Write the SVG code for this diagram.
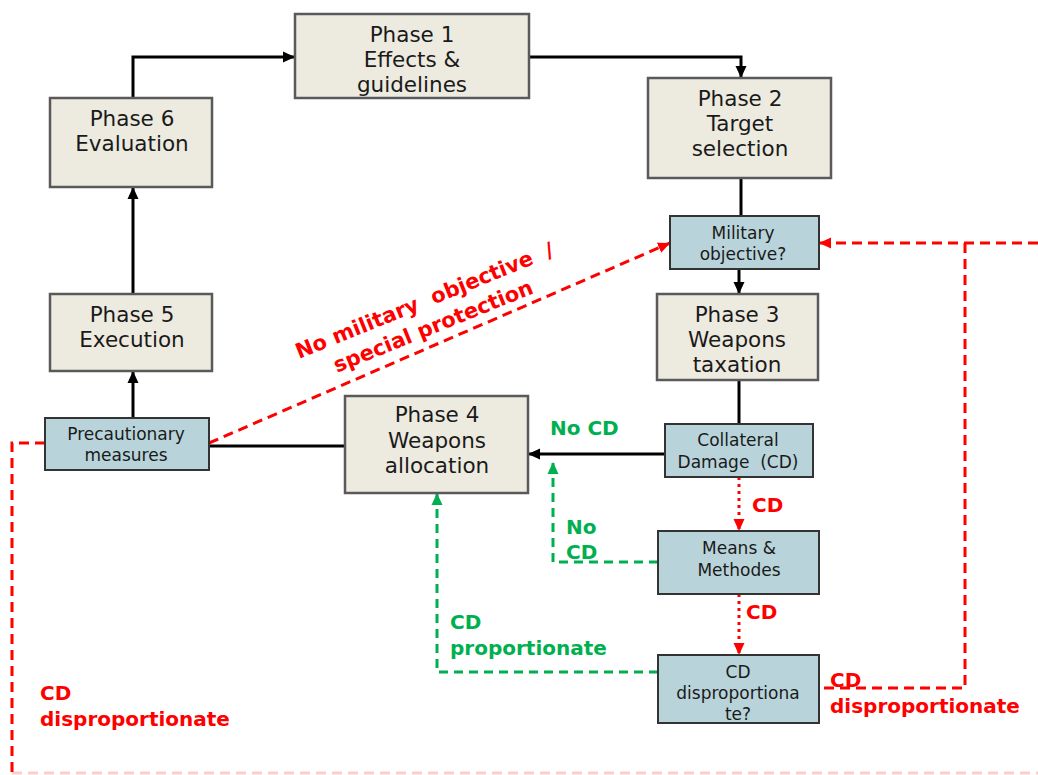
<svg xmlns="http://www.w3.org/2000/svg" width="1038" height="775" viewBox="0 0 1038 775">
<style>
.ph{fill:#EDEAE0;stroke:#5A5A5A;stroke-width:2.5}
.bl{fill:#B8D4DA;stroke:#333;stroke-width:2}
.t{font-family:"DejaVu Sans",Verdana,sans-serif;fill:#1a1a1a;text-anchor:middle}
.big{font-size:21.5px}
.sm{font-size:17px}
.lab{font-family:"DejaVu Sans",Verdana,sans-serif;font-weight:bold;font-size:20px;white-space:pre}
.red{fill:#FF0000}
.grn{fill:#00B050}
.k{fill:none;stroke:#000;stroke-width:3}
.rd{fill:none;stroke:#FF0000;stroke-width:3;stroke-dasharray:10 6}
.rdot{fill:none;stroke:#FF0000;stroke-width:3;stroke-dasharray:3 4}
.gd{fill:none;stroke:#00B050;stroke-width:3;stroke-dasharray:9 6}
</style>
<defs>
<marker id="ak" markerUnits="userSpaceOnUse" markerWidth="14" markerHeight="14" refX="12" refY="7" orient="auto"><path d="M0,1.5 L12,7 L0,12.5 z" fill="#000"/></marker>
<marker id="ar" markerUnits="userSpaceOnUse" markerWidth="14" markerHeight="14" refX="12" refY="7" orient="auto"><path d="M0,1.5 L12,7 L0,12.5 z" fill="#FF0000"/></marker>
<marker id="ag" markerUnits="userSpaceOnUse" markerWidth="14" markerHeight="14" refX="12" refY="7" orient="auto"><path d="M0,1.5 L12,7 L0,12.5 z" fill="#00B050"/></marker>
</defs>
<g id="connectors">
<path class="k" d="M133,98 V57 H295" marker-end="url(#ak)"/>
<path class="k" d="M529,57 H741 V78" marker-end="url(#ak)"/>
<path class="k" d="M741,178 V216"/>
<path class="k" d="M739,269 V294" marker-end="url(#ak)"/>
<path class="k" d="M739,380 V424"/>
<path class="k" d="M665,454 H528" marker-end="url(#ak)"/>
<path class="k" d="M345,446 H209"/>
<path class="k" d="M133,418 V371" marker-end="url(#ak)"/>
<path class="k" d="M133,294 V187" marker-end="url(#ak)"/>
<path class="rd" d="M209,443 L670,243" marker-end="url(#ar)"/>
<path class="rd" d="M1038,243 H819" marker-end="url(#ar)"/>
<path class="rd" d="M965,243 V688 H805"/>
<path class="rd" d="M45,443 H12 V773"/>
<path d="M12,773 H1038" fill="none" stroke="#FF0000" stroke-opacity="0.2" stroke-width="3" stroke-dasharray="10 6"/>
<path class="rdot" d="M739,477 V531" marker-end="url(#ar)"/>
<path class="rdot" d="M739,594 V655" marker-end="url(#ar)"/>
<path class="gd" d="M658,562 H553 V462" marker-end="url(#ag)"/>
<path class="gd" d="M658,672 H437 V493" marker-end="url(#ag)"/>
</g>
<g id="phase1"><rect class="ph" x="295" y="14" width="234" height="84"/><text class="t big"><tspan x="412" y="42">Phase 1</tspan><tspan x="412" y="67">Effects &amp;</tspan><tspan x="412" y="92">guidelines</tspan></text></g>
<g id="phase6"><rect class="ph" x="50" y="98" width="162" height="89"/><text class="t big"><tspan x="132" y="126">Phase 6</tspan><tspan x="132" y="151">Evaluation</tspan></text></g>
<g id="phase2"><rect class="ph" x="648" y="78" width="183" height="100"/><text class="t big"><tspan x="740" y="106">Phase 2</tspan><tspan x="740" y="131">Target</tspan><tspan x="740" y="156">selection</tspan></text></g>
<g id="military"><rect class="bl" x="670" y="216" width="149" height="53"/><text class="t sm"><tspan x="743" y="239">Military</tspan><tspan x="743" y="260">objective?</tspan></text></g>
<g id="phase3"><rect class="ph" x="657" y="294" width="161" height="86"/><text class="t big"><tspan x="737" y="322">Phase 3</tspan><tspan x="737" y="347">Weapons</tspan><tspan x="737" y="372">taxation</tspan></text></g>
<g id="phase5"><rect class="ph" x="50" y="294" width="162" height="77"/><text class="t big"><tspan x="132" y="322">Phase 5</tspan><tspan x="132" y="347">Execution</tspan></text></g>
<g id="precaution"><rect class="bl" x="45" y="418" width="164" height="52"/><text class="t sm"><tspan x="126" y="440">Precautionary</tspan><tspan x="126" y="461">measures</tspan></text></g>
<g id="phase4"><rect class="ph" x="345" y="396" width="183" height="97"/><text class="t big"><tspan x="437" y="422">Phase 4</tspan><tspan x="437" y="448">Weapons</tspan><tspan x="437" y="473">allocation</tspan></text></g>
<g id="collateral"><rect class="bl" x="665" y="424" width="148" height="53"/><text class="t sm" style="white-space:pre"><tspan x="738" y="446">Collateral</tspan><tspan x="738" y="468">Damage  (CD)</tspan></text></g>
<g id="means"><rect class="bl" x="658" y="531" width="161" height="63"/><text class="t sm"><tspan x="739" y="554">Means &amp;</tspan><tspan x="739" y="576">Methodes</tspan></text></g>
<g id="disprop"><rect class="bl" x="658" y="655" width="161" height="68"/><text class="t sm"><tspan x="738" y="678">CD</tspan><tspan x="738" y="699">disproportiona</tspan><tspan x="738" y="720">te?</tspan></text></g>
<g id="labels">
<text class="lab grn" x="550" y="435">No CD</text>
<text class="lab grn"><tspan x="566" y="534">No</tspan><tspan x="566" y="559">CD</tspan></text>
<text class="lab grn"><tspan x="450" y="629">CD</tspan><tspan x="450" y="655">proportionate</tspan></text>
<text class="lab red" x="752" y="512">CD</text>
<text class="lab red" x="746" y="619">CD</text>
<text class="lab red"><tspan x="830" y="687">CD</tspan><tspan x="830" y="713">disproportionate</tspan></text>
<text class="lab red"><tspan x="40" y="700">CD</tspan><tspan x="40" y="726">disproportionate</tspan></text>
<text class="lab red" transform="translate(299,359) rotate(-22)" style="font-size:21px"><tspan x="0" y="0">No military  objective  /</tspan><tspan x="30" y="27">special protection</tspan></text>
</g>
</svg>
